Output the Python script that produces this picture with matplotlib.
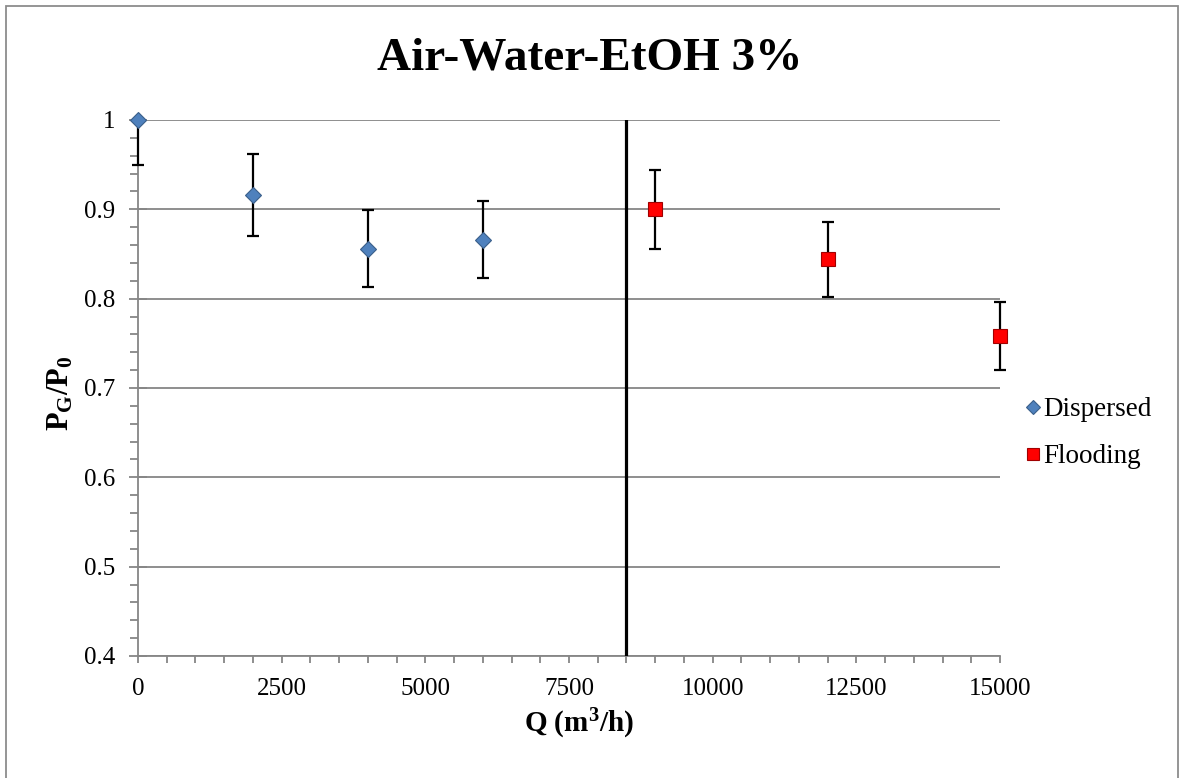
import matplotlib
matplotlib.use('Agg')
import matplotlib.pyplot as plt
from matplotlib.patches import Rectangle
from matplotlib.ticker import MultipleLocator

# data
disp_q = [0, 2000, 4000, 6000]
disp_p = [1.0, 0.916, 0.856, 0.866]
disp_err = [0.05, 0.046, 0.043, 0.043]

flood_q = [9000, 12000, 15000]
flood_p = [0.900, 0.844, 0.758]
flood_err = [0.044, 0.042, 0.038]

regime_change = 8500

plt.rcParams['font.family'] = ['Liberation Serif', 'DejaVu Serif']
plt.rcParams['mathtext.fontset'] = 'custom'
plt.rcParams['mathtext.rm'] = 'Liberation Serif'
plt.rcParams['mathtext.bf'] = 'Liberation Serif:bold'
plt.rcParams['mathtext.it'] = 'Liberation Serif:italic'

fig = plt.figure(figsize=(11.79, 7.78), dpi=100)
ax = fig.add_axes([138/1179, 1-656/778, (1000-138)/1179, (656-120)/778])

grid_col = '#868686'

# outer chart border (Excel chart area)
fig.patches.append(Rectangle((6/1179, -0.05), (1178-6)/1179, 1-6/778+0.05,
                             transform=fig.transFigure, fill=False,
                             edgecolor='#8c8c8c', lw=1.3))

ax.set_xlim(0, 15000)
ax.set_ylim(0.4, 1.0)
ax.yaxis.set_minor_locator(MultipleLocator(0.02))
ax.xaxis.set_major_locator(MultipleLocator(2500))
ax.xaxis.set_minor_locator(MultipleLocator(500))
ax.set_yticks([0.4, 0.5, 0.6, 0.7, 0.8, 0.9, 1.0])
ax.set_yticklabels(['0.4', '0.5', '0.6', '0.7', '0.8', '0.9', '1'])

for s in ['top', 'right']:
    ax.spines[s].set_visible(False)
for s in ['left', 'bottom']:
    ax.spines[s].set_color(grid_col)
    ax.spines[s].set_linewidth(1.3)

ax.grid(axis='y', color=grid_col, lw=1.3)
ax.set_axisbelow(True)
ax.tick_params(axis='both', which='both', color=grid_col, width=1.3, labelsize=18)
ax.tick_params(axis='y', which='major', direction='inout', length=13, pad=10)
ax.tick_params(axis='y', which='minor', direction='out', length=6)
ax.tick_params(axis='x', which='both', length=5, pad=11)

ax.axvline(regime_change, color='black', lw=2.3, zorder=3)

# clip error bars to the plot height only, so caps at x=0 and x=15000 stay whole
clip = Rectangle((-0.05, 0), 1.1, 1, transform=ax.transAxes, visible=False)
ax.add_patch(clip)
for q, p, e in [(disp_q, disp_p, disp_err), (flood_q, flood_p, flood_err)]:
    eb = ax.errorbar(q, p, yerr=e, fmt='none', ecolor='black',
                     elinewidth=1.6, capsize=4.3, capthick=1.6, zorder=4)
    for art in eb.lines[1] + eb.lines[2]:
        art.set_clip_path(clip)

ax.plot(disp_q, disp_p, ls='none', marker='D', ms=7.8, mfc='#4f81bd',
        mec='#3a5f8a', mew=0.8, clip_on=False, zorder=5, label='Dispersed')
ax.plot(flood_q, flood_p, ls='none', marker='s', ms=10, mfc='#ff0000',
        mec='#a00000', mew=0.8, clip_on=False, zorder=5, label='Flooding')

ax.set_xlabel(r'Q (m$^{\mathbf{3}}$/h)', fontsize=21, fontweight='bold')
ax.xaxis.set_label_coords(0.512, -0.095)
ax.set_ylabel(r'$\mathbf{P_G/P_0}$', fontsize=22)
ax.yaxis.set_label_coords(-0.073, 0.49)
fig.text(0.5, 1-58/778, 'Air-Water-EtOH 3%', ha='center', va='center',
         fontsize=34, fontweight='bold')

ax.legend(loc='center left', bbox_to_anchor=(1.031, 0.416), frameon=False,
          fontsize=19.5, handlelength=0.5, handletextpad=0.12, labelspacing=0.81,
          markerscale=0.9, borderaxespad=0, borderpad=0)

fig.savefig('out.png', dpi=100)
